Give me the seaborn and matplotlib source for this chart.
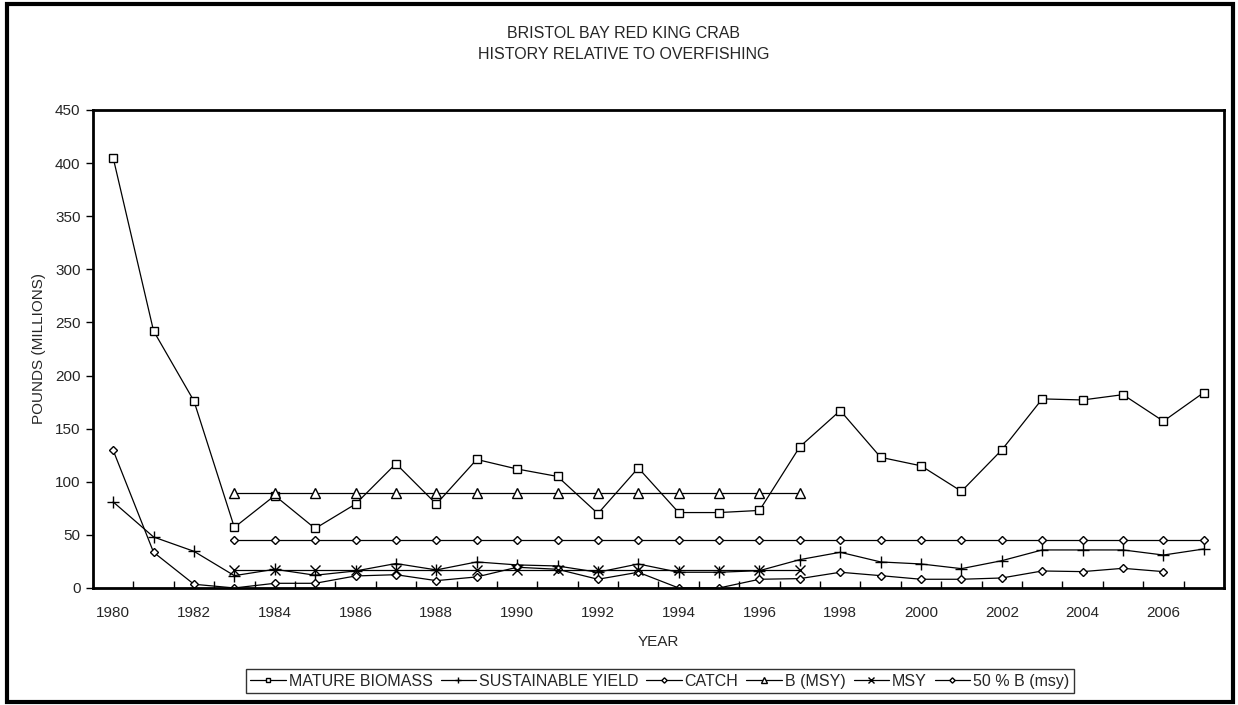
import numpy as np
import pandas as pd
import matplotlib
matplotlib.use('Agg')
import matplotlib.pyplot as plt
from matplotlib.patches import Rectangle
from matplotlib.ticker import MultipleLocator
import seaborn as sns

###################################################################################
#Data

years = list(range(1980, 2008))
mature_biomass = [405, 242, 176, 57, 87, 56, 79, 117, 79, 121, 112, 105, 70, 113,
                  71, 71, 73, 133, 167, 123, 115, 91, 130, 178, 177, 182, 157, 184]
sustainable_yield = [81, 48, 34.5, 11.6, 17.6, 12, 16, 23, 17, 24.5, 21.7, 20.7, 14.8, 22.6,
                     14.8, 14.8, 16.3, 26.7, 33.6, 24.5, 22.6, 18.2, 25.7, 35.8, 35.8, 35.8, 31, 36.7]
catch = [129.6, 33.6, 3.5, 0, 4.4, 4.4, 11.3, 12.5, 6.9, 10.4, 19.5, 17.6, 8.2, 14.8,
         0, 0, 8.2, 8.8, 14.8, 11.6, 8.2, 8.2, 9.4, 16, 15.4, 18.5, 15.4, np.nan]
msy_years = list(range(1983, 1998))
b_msy = [89] * len(msy_years)
msy = [17.3] * len(msy_years)
half_years = list(range(1983, 2008))
half_b_msy = [44.8] * len(half_years)

series = [
    ('MATURE BIOMASS', years, mature_biomass, 's', 6),
    ('SUSTAINABLE YIELD', years, sustainable_yield, '+', 8),
    ('CATCH', years, catch, 'D', 4.5),
    ('B (MSY)', msy_years, b_msy, '^', 6.5),
    ('MSY', msy_years, msy, 'x', 7),
    ('50 % B (msy)', half_years, half_b_msy, 'D', 4.5),
]

###################################################################################
#Plot

sns.set_style('white')
plt.rcParams['font.family'] = ['Liberation Sans', 'DejaVu Sans']

fig = plt.figure(figsize=(12.38, 7.05), dpi=100)
ax = fig.add_axes([0.0751, 0.166, 0.9136, 0.678])

for name, xs, ys, mk, ms in series:
    df = pd.DataFrame({'year': xs, 'value': ys}).dropna()
    sns.lineplot(data=df, x='year', y='value', ax=ax, color='black', lw=0.9,
                 marker=mk, markersize=ms, markerfacecolor='white',
                 markeredgecolor='black', markeredgewidth=1.0, label=name)

ax.set_xlim(1979.5, 2007.5)
ax.set_ylim(0, 450)
ax.yaxis.set_major_locator(MultipleLocator(50))
ax.set_xticks(list(range(1980, 2007, 2)))
ax.set_xticks(np.arange(1980.5, 2007.5, 1), minor=True)
ax.tick_params(axis='x', which='major', length=0, labelsize=11, pad=13)
ax.tick_params(axis='x', which='minor', direction='in', length=5, width=1, color='black')
ax.tick_params(axis='y', which='major', direction='out', length=5, width=1,
               color='black', labelsize=11, pad=4)
ax.tick_params(bottom=True, left=True, which='both')

for s in ax.spines.values():
    s.set_visible(True)
    s.set_color('black')
    s.set_linewidth(2)

ax.set_xlabel('YEAR', fontsize=11)
ax.set_ylabel('POUNDS (MILLIONS)', fontsize=11)
ax.xaxis.set_label_coords(0.5, -0.098)
ax.yaxis.set_label_coords(-0.0416, 0.5)

fig.text(0.504, 0.946, 'BRISTOL BAY RED KING CRAB', ha='center', va='baseline', fontsize=11.5)
fig.text(0.504, 0.9163, 'HISTORY RELATIVE TO OVERFISHING', ha='center', va='baseline', fontsize=11.5)

ax.get_legend().remove()
handles, labels = ax.get_legend_handles_labels()
leg = fig.legend(handles, labels, loc='center', bbox_to_anchor=(0.533, 0.034), ncol=6,
                 fontsize=11.5, frameon=True, fancybox=False, handlelength=2.2,
                 handletextpad=0.2, columnspacing=0.5, borderpad=0.3,
                 borderaxespad=0, markerscale=0.6)
leg.get_frame().set_edgecolor('black')
leg.get_frame().set_linewidth(1)

fig.patches.append(Rectangle((0.0055, 0.004), 0.9905, 0.99, transform=fig.transFigure,
                             fill=False, lw=3, edgecolor='black'))

fig.savefig('out.png', dpi=100)
